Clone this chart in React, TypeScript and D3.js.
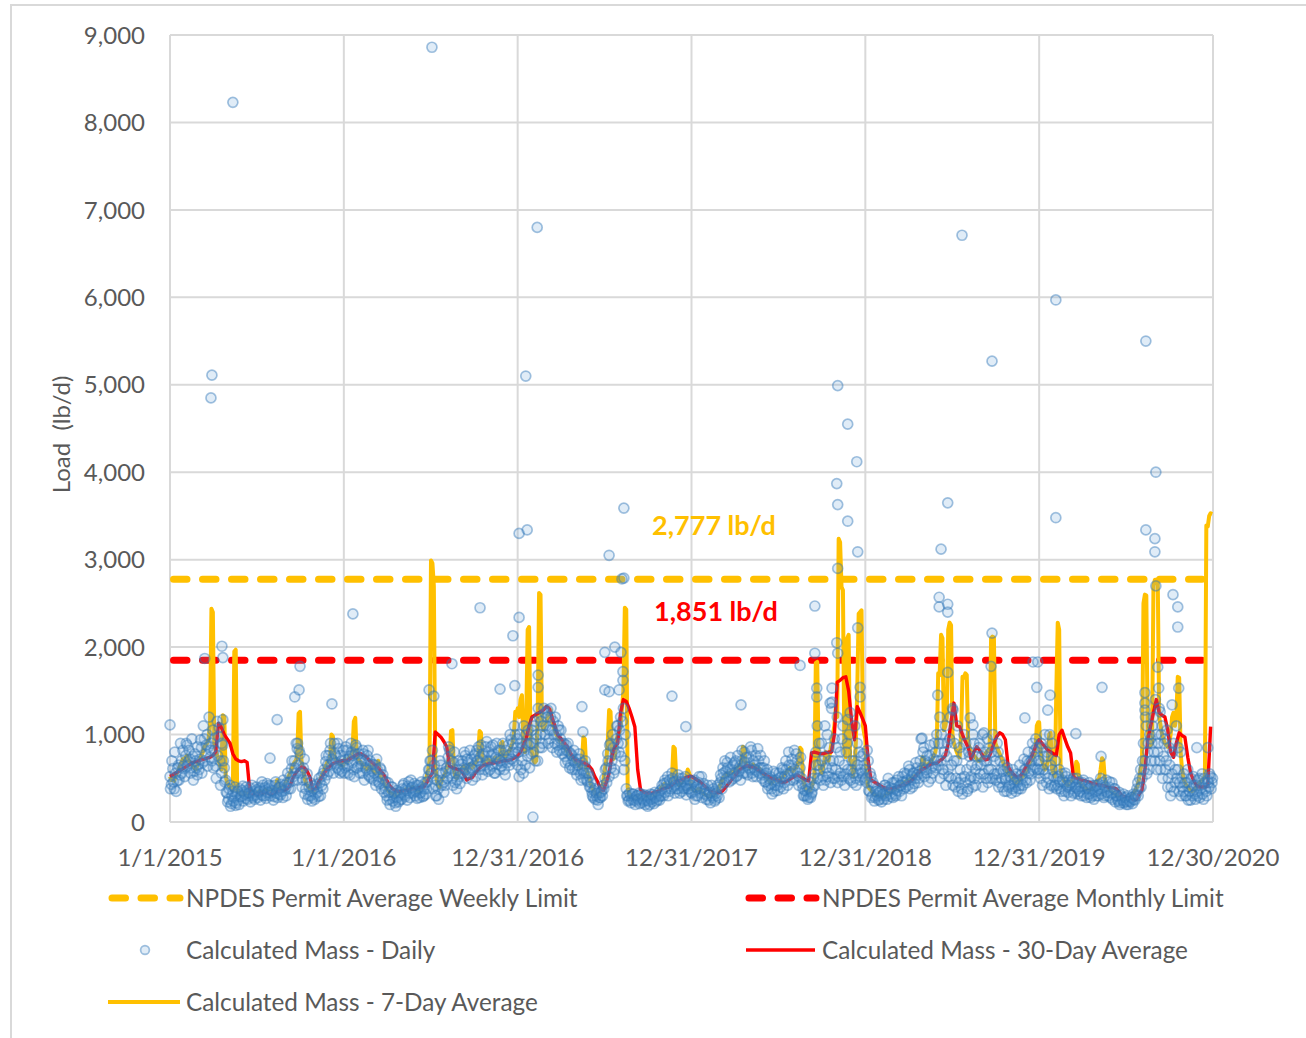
import React from 'react';
import * as d3 from 'd3';

// axis labels
const dateLabels = ['1/1/2015', '1/1/2016', '12/31/2016', '12/31/2017', '12/31/2018', '12/31/2019', '12/30/2020'];
const loadTicks = [0, 1000, 2000, 3000, 4000, 5000, 6000, 7000, 8000, 9000];

const weeklyLimit = 2777;
const monthlyLimit = 1851;

// daily mass, one value every 3 days inside each axis interval (lb/d)
const daily2015 = [
  520, 430, 610, 380, 560, 470, 650, 540, 700, 820,
  610, 760, 880, 690, 720, 620, 750, 580, 700, 540,
  660, 720, 850, 680, 950, 780, 1000, 860, 740, 900,
  1050, 820, 640, 1150, 980, 700, 560, 880, 620, 480,
  330, 260, 420, 210, 350, 280, 190, 320, 250, 380,
  290, 410, 340, 270, 360, 300, 390, 330, 280, 350,
  310, 370, 340, 390, 310, 420, 360, 300, 440, 380,
  330, 410, 350, 290, 460, 370, 320, 400, 430, 280,
  360, 390, 450, 380, 520, 610, 470, 700, 560, 840,
  650, 780, 600, 480, 720, 380, 550, 300, 450, 350,
  280, 410, 320, 380, 290, 450, 520, 380, 600, 690,
  540, 760, 820, 650, 700, 900, 760, 620, 840, 560,
  700, 650,
];
const daily2016 = [
  700, 620, 820, 560, 750, 900, 680, 600, 780, 850,
  640, 720, 640, 560, 780, 700, 600, 820, 520, 660,
  580, 480, 650, 720, 520, 440, 600, 500, 420, 380,
  300, 450, 260, 340, 400, 280, 220, 360, 300, 250,
  320, 380, 440, 290, 360, 410, 330, 480, 400, 350,
  300, 420, 370, 280, 340, 400, 300, 450, 380, 520,
  600, 700, 820, 500, 420, 300, 380, 560, 650, 480,
  340, 420, 620, 740, 820, 560, 500, 680, 450, 380,
  600, 520, 560, 700, 620, 760, 500, 680, 590, 720,
  480, 640, 780, 820, 700, 600, 880, 540, 760, 650,
  920, 580, 700, 860, 640, 780, 560, 900, 720, 600,
  820, 680, 760, 540, 720, 880, 650, 940, 800, 700,
  1000, 850,
];
const daily2017 = [
  650, 520, 900, 700, 560, 820, 1000, 750, 880, 900,
  1050, 800, 1150, 950, 700, 1200, 1000, 850, 1100, 1250,
  1100, 1280, 950, 1200, 1050, 1150, 900, 1000, 880, 1050,
  950, 900, 820, 750, 880, 700, 800, 650, 760, 700,
  600, 720, 600, 780, 550, 680, 500, 640, 560, 460,
  520, 400, 340, 280, 380, 300, 250, 330, 280, 360,
  420, 500, 620, 780, 520, 900, 700, 850, 600, 950,
  1100, 800, 1200, 900, 1300, 700, 380, 300, 250, 300,
  260, 320, 280, 240, 300, 330, 270, 220, 290, 310,
  250, 180, 280, 320, 230, 270, 340, 300, 260, 290,
  360, 420, 300, 480, 380, 520, 350, 440, 560, 400,
  330, 470, 380, 500, 420, 350, 460, 390, 310, 440,
  380, 420,
];
const daily2018 = [
  420, 350, 480, 300, 380, 450, 330, 520, 400, 360,
  380, 300, 250, 330, 420, 280, 350, 260, 300, 400,
  450, 500, 620, 450, 580, 680, 520, 600, 480, 650,
  560, 700, 530, 610, 640, 700, 620, 800, 560, 680,
  740, 600, 820, 520, 650, 760, 580, 700, 620, 620,
  540, 700, 460, 600, 420, 520, 380, 480, 350, 560,
  420, 500, 460, 520, 600, 450, 700, 550, 800, 480,
  650, 580, 820, 500, 700, 420, 620, 500, 380, 300,
  420, 350, 280, 460, 320, 400, 550, 800, 1100, 650,
  600, 900, 520, 750, 480, 1000, 560, 700, 1300, 500,
  950, 600, 1200, 520, 800, 480, 1100, 650, 550, 900,
  500, 1250, 600, 450, 700, 500, 900, 560, 480, 750,
  520, 650,
];
const daily2019 = [
  600, 450, 700, 350, 520, 300, 420, 280, 380, 330,
  260, 300, 380, 260, 420, 340, 500, 360, 290, 450,
  380, 320, 480, 400, 350, 420, 520, 380, 460, 550,
  420, 600, 480, 400, 560, 500, 620, 450, 580, 950,
  620, 850, 700, 560, 680, 760, 500, 640, 720, 800,
  1000, 650, 1200, 700, 900, 550, 1100, 750, 600, 950,
  500, 1300, 700, 400, 700, 350, 850, 500, 320, 1000,
  450, 600, 380, 750, 520, 400, 900, 600, 750, 500,
  900, 650, 1000, 550, 800, 700, 450, 850, 600, 500,
  750, 700, 550, 800, 450, 600, 400, 650, 500, 350,
  580, 420, 480, 380, 520, 400, 550, 460, 650, 380,
  500, 720, 600, 450, 800, 680, 550, 900, 750, 620,
  850, 700,
];
const daily2020 = [
  700, 500, 850, 600, 1000, 450, 750, 380, 650, 900,
  520, 420, 500, 420, 600, 380, 550, 460, 350, 520,
  400, 480, 450, 380, 500, 350, 420, 320, 460, 400,
  340, 480, 380, 400, 320, 450, 280, 380, 340, 420,
  300, 360, 430, 500, 360, 420, 300, 480, 340, 400,
  280, 450, 330, 380, 300, 260, 340, 220, 280, 320,
  240, 200, 300, 260, 230, 280, 320, 250, 320, 450,
  380, 600, 500, 900, 700, 1100, 800, 600, 950, 900,
  1200, 700, 1000, 800, 1300, 600, 1100, 750, 950, 700,
  400, 850, 300, 550, 900, 450, 1100, 600, 350, 800,
  500, 350, 450, 300, 600, 400, 250, 380, 520, 320,
  420, 300, 500, 380, 550, 260, 450, 350, 480, 400,
  520, 450,
];

// the in-between daily readings, one day after each value above (lb/d)
const dailyB2015 = [
  380, 700, 460, 800, 350, 620, 480, 900, 560, 640,
  520, 900, 640, 820, 560, 950, 480, 780, 620, 860,
  600, 940, 560, 1100, 700, 880, 640, 1200, 820, 700,
  620, 960, 500, 760, 1080, 420, 900, 700, 460, 340,
  230, 380, 180, 300, 240, 400, 220, 350, 200, 290,
  360, 240, 320, 400, 260, 330, 230, 420, 300, 260,
  400, 280, 350, 250, 460, 300, 390, 270, 340, 420,
  300, 360, 250, 420, 330, 280, 390, 310, 350, 480,
  420, 300, 560, 450, 380, 700, 520, 620, 900, 480,
  820, 560, 400, 620, 320, 480, 260, 400, 300, 240,
  380, 260, 430, 340, 500, 300, 420, 560, 480, 760,
  650, 580, 900, 720, 560, 780, 680, 900, 600, 760,
  580, 820,
];
const dailyB2016 = [
  560, 860, 640, 720, 540, 800, 760, 520, 880, 620,
  780, 560, 700, 820, 480, 620, 760, 540, 700, 500,
  660, 560, 420, 600, 460, 620, 380, 540, 340, 460,
  250, 340, 200, 400, 240, 330, 180, 280, 230, 340,
  260, 420, 310, 380, 250, 460, 280, 390, 330, 440,
  350, 270, 420, 330, 460, 290, 380, 320, 460, 600,
  700, 560, 380, 650, 300, 480, 260, 700, 420, 560,
  460, 580, 500, 860, 620, 700, 420, 800, 560, 480,
  700, 440, 660, 560, 800, 600, 720, 560, 820, 620,
  600, 760, 520, 700, 860, 740, 640, 780, 600, 860,
  700, 800, 600, 760, 880, 560, 740, 660, 820, 700,
  640, 900, 600, 820, 680, 760, 1000, 720, 900, 1100,
  780, 950,
];
const dailyB2017 = [
  800, 1000, 600, 850, 1100, 650, 900, 1050, 620, 780,
  900, 1100, 700, 1000, 1300, 850, 1150, 900, 1300, 1000,
  1200, 900, 1050, 1300, 850, 1000, 1200, 800, 1100, 820,
  1050, 780, 900, 680, 820, 900, 620, 780, 600, 820,
  680, 540, 650, 720, 480, 600, 560, 700, 480, 560,
  400, 450, 300, 360, 260, 330, 200, 280, 340, 300,
  380, 600, 450, 700, 880, 620, 1000, 560, 780, 1100,
  900, 1050, 750, 1150, 600, 1000, 300, 240, 330, 220,
  320, 250, 200, 300, 260, 210, 320, 260, 240, 200,
  300, 240, 200, 260, 310, 210, 280, 240, 330, 250,
  300, 380, 440, 340, 450, 300, 480, 380, 500, 460,
  420, 380, 540, 330, 460, 500, 380, 520, 420, 380,
  480, 340,
];
const dailyB2018 = [
  330, 460, 260, 400, 300, 520, 380, 280, 440, 320,
  260, 420, 340, 220, 300, 380, 240, 330, 420, 280,
  540, 380, 560, 700, 500, 620, 460, 740, 560, 500,
  680, 520, 760, 580, 480, 820, 560, 680, 740, 540,
  620, 860, 560, 700, 600, 520, 840, 560, 760, 500,
  620, 460, 560, 380, 500, 440, 320, 580, 420, 480,
  360, 560, 400, 620, 380, 520, 600, 420, 650, 560,
  720, 480, 600, 780, 560, 520, 740, 440, 300, 360,
  300, 260, 380, 280, 340, 500, 420, 650, 500, 900,
  480, 700, 420, 1100, 620, 520, 850, 450, 620, 700,
  500, 850, 450, 700, 560, 950, 520, 420, 800, 600,
  1000, 480, 700, 560, 1100, 420, 650, 800, 600, 560,
  780, 480,
];
const dailyB2019 = [
  500, 820, 360, 560, 280, 450, 240, 350, 300, 250,
  350, 230, 320, 420, 300, 260, 400, 320, 380, 280,
  450, 300, 360, 520, 420, 300, 460, 560, 400, 480,
  640, 380, 520, 560, 440, 680, 540, 500, 700, 560,
  800, 520, 600, 760, 460, 880, 620, 560, 900, 620,
  700, 900, 500, 1000, 600, 800, 420, 900, 520, 1200,
  650, 420, 900, 500, 1100, 450, 600, 380, 780, 520,
  900, 350, 800, 480, 650, 1000, 500, 420, 650, 850,
  550, 750, 400, 700, 500, 950, 600, 500, 800, 1000,
  550, 480, 900, 400, 700, 500, 580, 350, 480, 620,
  400, 520, 330, 600, 450, 350, 480, 380, 420, 540,
  420, 600, 480, 700, 560, 480, 700, 600, 820, 950,
  600, 560,
];
const dailyB2020 = [
  600, 900, 420, 750, 550, 800, 500, 1000, 420, 600,
  400, 700, 380, 520, 460, 350, 480, 300, 560, 420,
  340, 420, 300, 460, 330, 400, 500, 380, 350, 300,
  450, 300, 420, 280, 380, 320, 420, 300, 260, 350,
  420, 300, 380, 320, 450, 280, 400, 340, 300, 460,
  330, 260, 380, 230, 300, 240, 200, 300, 250, 220,
  280, 230, 200, 240, 280, 210, 260, 300, 380, 300,
  500, 400, 700, 600, 1200, 550, 900, 1000, 700, 1100,
  800, 1400, 600, 900, 700, 1000, 500, 900, 600, 1050,
  500, 650, 400, 800, 350, 600, 500, 850, 450, 300,
  400, 550, 300, 450, 250, 350, 500, 300, 420, 260,
  350, 480, 280, 420, 320, 500, 380, 300, 450, 550,
  380, 500,
];

// isolated daily readings: [days after 1/1/2015, lb/d]
const dailyHighs = [
  [0, 1110], [73, 1870], [86, 4850], [88, 5110], [109, 2010], [111, 1880], [111, 1170], [132, 8230],
  [210, 730], [225, 1170], [262, 1430], [268, 900], [271, 1510], [273, 1780], [340, 1350],
  [384, 2380], [544, 1510], [550, 8860], [554, 1440], [592, 1810], [651, 2450], [693, 1520],
  [720, 2130], [724, 1560], [733, 2340],
  [733, 3300], [747, 5100], [750, 3340], [762, 57], [771, 6800], [773, 1680], [773, 1540],
  [865, 1320], [867, 1030], [913, 1940], [913, 1510], [922, 1490], [922, 3050], [934, 2000],
  [943, 1510], [947, 1940], [949, 2780], [951, 1620], [951, 1720], [953, 3590], [953, 2790],
  [1054, 1440], [1083, 1090],
  [1199, 1340], [1323, 1790], [1354, 2470], [1354, 1930], [1358, 1530], [1358, 1430],
  [1386, 1360], [1390, 1370], [1390, 1530], [1400, 3870], [1400, 2050], [1402, 3630],
  [1402, 4990], [1402, 2900], [1402, 1930], [1423, 4550], [1423, 3440], [1423, 1170],
  [1442, 4120], [1444, 3090], [1444, 2220], [1449, 1540], [1449, 1430],
  [1579, 960], [1612, 1450], [1615, 2570], [1615, 2460], [1619, 3120], [1633, 2490],
  [1633, 2400], [1633, 3650], [1633, 1710], [1644, 1280], [1663, 6710], [1680, 1190],
  [1686, 1110], [1709, 1020], [1724, 1780], [1726, 5270], [1726, 2160], [1795, 1190],
  [1812, 1830], [1820, 1540], [1822, 1830],
  [1843, 1280], [1848, 1450], [1860, 5970], [1860, 3480], [1902, 1010], [1955, 750],
  [1957, 1540], [2047, 1480], [2047, 1360], [2047, 1280], [2049, 5500], [2049, 3340],
  [2068, 3240], [2068, 3090], [2070, 4000], [2070, 2700], [2074, 1770], [2076, 1530],
  [2079, 1260], [2104, 1340], [2106, 2600], [2116, 2460], [2116, 2230], [2118, 1530],
  [2156, 850], [2179, 850],
];

// 7-day average, one value every 3 days
const avg7_2015 = [
  520, 480, 500, 470, 540, 560, 600, 640, 680, 720,
  700, 740, 760, 700, 680, 660, 640, 620, 600, 640,
  680, 720, 760, 800, 860, 880, 900, 950, 1100, 2440,
  2400, 900, 820, 760, 700, 650, 600, 1220, 1200, 520,
  450, 420, 400, 380, 360, 1950, 1970, 360, 340, 330,
  320, 330, 340, 320, 310, 330, 340, 350, 330, 320,
  330, 340, 350, 360, 340, 330, 350, 370, 360, 350,
  370, 380, 360, 350, 400, 480, 420, 380, 390, 400,
  420, 450, 480, 520, 560, 600, 640, 680, 700, 750,
  1240, 1260, 700, 600, 520, 450, 420, 400, 380, 360,
  350, 360, 380, 400, 440, 480, 520, 560, 600, 640,
  680, 700, 720, 1000, 980, 760, 720, 700, 680, 660,
  650, 640,
];
const avg7_2016 = [
  700, 720, 680, 700, 740, 760, 800, 1150, 1190, 760,
  720, 700, 680, 660, 640, 620, 600, 620, 640, 660,
  600, 580, 560, 620, 700, 560, 520, 480, 450, 420,
  380, 360, 340, 330, 320, 310, 300, 310, 320, 330,
  340, 350, 360, 370, 380, 370, 360, 380, 400, 390,
  370, 360, 350, 380, 400, 420, 450, 480, 520, 600,
  700, 2990, 2960, 2700, 650, 480, 420, 400, 450, 500,
  520, 560, 600, 700, 700, 1040, 1050, 600, 520, 500,
  540, 580, 600, 620, 640, 600, 580, 620, 660, 640,
  620, 650, 680, 700, 740, 1040, 1020, 700, 680, 660,
  700, 720, 700, 680, 700, 720, 740, 700, 680, 720,
  900, 915, 760, 740, 780, 800, 820, 860, 900, 1000,
  1260, 1240,
];
const avg7_2017 = [
  1300, 1200, 1400, 1450, 900, 800, 1200, 2200, 2230, 900,
  800, 700, 680, 700, 1200, 2620, 2600, 1100, 1050, 1100,
  1150, 1200, 1250, 1280, 1150, 1100, 1050, 1000, 980, 950,
  920, 900, 880, 850, 820, 800, 780, 760, 740, 720,
  700, 680, 660, 640, 620, 700, 970, 950, 600, 560,
  500, 440, 400, 360, 330, 310, 300, 320, 340, 380,
  480, 600, 700, 900, 1280, 1260, 800, 720, 760, 900,
  1000, 1020, 1100, 1300, 1500, 2450, 2430, 400, 320, 300,
  280, 270, 280, 290, 300, 280, 270, 260, 280, 300,
  290, 280, 300, 310, 320, 300, 310, 330, 340, 360,
  380, 400, 420, 440, 420, 400, 420, 450, 500, 860,
  840, 500, 450, 420, 440, 460, 480, 500, 520, 600,
  560, 500,
];
const avg7_2018 = [
  380, 370, 360, 350, 360, 380, 370, 350, 330, 320,
  310, 300, 290, 300, 320, 310, 300, 320, 340, 380,
  420, 460, 500, 520, 540, 560, 540, 560, 580, 560,
  580, 600, 620, 640, 660, 700, 860, 840, 660, 640,
  640, 620, 640, 660, 640, 620, 600, 620, 600, 580,
  560, 540, 520, 500, 480, 460, 440, 460, 480, 500,
  480, 460, 480, 500, 520, 540, 560, 580, 600, 620,
  600, 580, 600, 620, 640, 700, 850, 830, 500, 420,
  380, 360, 340, 360, 400, 450, 500, 1820, 1830, 700,
  600, 560, 620, 700, 800, 760, 700, 800, 900, 1000,
  1100, 1300, 1200, 3240, 3200, 2690, 2650, 800, 740, 2100,
  2140, 700, 700, 520, 600, 900, 1500, 2380, 2400, 2420,
  1100, 1000,
];
const avg7_2019 = [
  950, 500, 400, 380, 360, 340, 320, 310, 300, 310,
  320, 300, 290, 300, 310, 320, 330, 340, 350, 360,
  370, 380, 390, 400, 410, 420, 440, 450, 460, 470,
  480, 490, 500, 510, 520, 530, 540, 560, 580, 600,
  740, 720, 620, 640, 660, 680, 700, 720, 760, 800,
  900, 1700, 1680, 2140, 2100, 1050, 1100, 1200, 2200, 2280,
  2250, 1000, 900, 850, 800, 760, 740, 1000, 1660, 1650,
  1700, 1680, 900, 850, 800, 780, 760, 740, 720, 700,
  700, 720, 740, 760, 780, 800, 820, 840, 2100, 2120,
  2110, 900, 860, 820, 780, 740, 700, 660, 620, 580,
  560, 540, 520, 500, 480, 460, 450, 460, 480, 500,
  520, 540, 560, 600, 640, 680, 700, 720, 760, 800,
  1100, 1140,
];
const avg7_2020 = [
  1140, 800, 700, 650, 600, 620, 700, 1000, 1020, 600,
  560, 520, 1500, 2280, 2200, 600, 520, 480, 460, 440,
  420, 440, 460, 480, 500, 560, 690, 660, 480, 440,
  420, 400, 390, 380, 370, 360, 380, 400, 420, 440,
  460, 480, 500, 600, 730, 700, 480, 420, 400, 380,
  360, 340, 330, 320, 310, 300, 290, 280, 270, 260,
  260, 250, 260, 270, 280, 300, 320, 350, 380, 420,
  500, 600, 700, 2500, 2600, 2590, 900, 860, 880, 900,
  2700, 2770, 2770, 2760, 1200, 1100, 1000, 950, 900, 880,
  860, 900, 1000, 1200, 1250, 1100, 1200, 1660, 1650, 800,
  600, 500, 450, 420, 400, 380, 360, 350, 360, 380,
  400, 420, 440, 460, 480, 500, 520, 3390, 3380, 3500,
  3530, 3520,
];

// 30-day average, one value every 6 days
const avg30_2015 = [
  520, 540, 560, 580, 600, 620, 640, 660, 680, 690,
  700, 710, 720, 730, 740, 760, 800, 1130, 1080, 1000,
  950, 900, 780, 720, 700, 690, 700, 680, 330, 320,
  310, 320, 330, 340, 330, 320, 330, 340, 350, 360,
  360, 380, 420, 500, 560, 600, 630, 620, 580, 510,
  370, 380, 460, 500, 560, 600, 640, 670, 680, 690,
  700,
];
const avg30_2016 = [
  700, 700, 720, 740, 760, 780, 780, 760, 740, 700,
  680, 650, 620, 580, 540, 480, 420, 380, 360, 350,
  350, 360, 360, 370, 380, 380, 390, 400, 400, 450,
  510, 560, 1030, 1000, 970, 920, 860, 640, 620, 610,
  600, 590, 540, 480, 500, 510, 560, 600, 630, 650,
  660, 670, 670, 680, 680, 690, 700, 700, 710, 720,
  740,
];
const avg30_2017 = [
  760, 800, 880, 950, 1100, 1200, 1220, 1240, 1260, 1280,
  1320, 1300, 1200, 1100, 1000, 960, 920, 880, 820, 760,
  720, 700, 690, 680, 660, 640, 600, 520, 460, 380,
  360, 450, 560, 760, 860, 900, 1250, 1400, 1380, 1300,
  1200, 1090, 600, 370, 340, 330, 330, 330, 340, 350,
  360, 380, 390, 400, 420, 450, 470, 480, 490, 510,
  520,
];
const avg30_2018 = [
  520, 500, 480, 460, 430, 400, 370, 350, 340, 330,
  340, 360, 400, 440, 480, 520, 560, 600, 620, 640,
  640, 630, 620, 600, 580, 560, 540, 520, 500, 490,
  480, 460, 450, 460, 480, 500, 520, 540, 520, 500,
  480, 470, 790, 800, 790, 780, 780, 790, 800, 800,
  1000, 1600, 1620, 1650, 1660, 1500, 1170, 940, 1320, 1250,
  1170,
];
const avg30_2019 = [
  1100, 700, 480, 460, 440, 420, 400, 390, 380, 380,
  390, 400, 410, 420, 430, 450, 470, 500, 540, 580,
  600, 620, 640, 660, 670, 670, 700, 720, 760, 900,
  1150, 1360, 1100, 1090, 1000, 920, 850, 720, 800, 860,
  820, 760, 710, 720, 800, 900, 980, 1020, 1000, 940,
  630, 580, 540, 510, 520, 560, 620, 680, 740, 820,
  900,
];
const avg30_2020 = [
  940, 900, 860, 820, 800, 780, 760, 1000, 1050, 950,
  860, 790, 510, 500, 490, 480, 470, 460, 450, 440,
  430, 420, 420, 410, 400, 390, 390, 380, 340, 300,
  290, 280, 270, 250, 260, 320, 370, 600, 940, 1100,
  1250, 1400, 1250, 1220, 1200, 1050, 800, 740, 900, 1020,
  990, 970, 740, 560, 480, 420, 400, 400, 400, 410,
  1090,
];

const FONT = "Lato, 'Liberation Sans', sans-serif";
const GRID = '#d9d9d9';
const TEXT = '#595959';
const GOLD = '#FFC000';
const RED = '#FF0000';

type Pt = { date: Date; v: number };

export default function App() {
  const width = 1306;
  const height = 1038;
  const left = 170, right = 1213, top = 35, bottom = 822;

  const parse = d3.utcParse('%m/%d/%Y');
  const tickDates = dateLabels.map((s) => parse(s) as Date);

  const x = d3.scaleUtc().domain([tickDates[0], tickDates[tickDates.length - 1]]).range([left, right]);
  const y = d3.scaleLinear().domain([0, 9000]).range([bottom, top]);

  const bySegment = (years: number[][], step: number, shift = 0): Pt[] =>
    years.flatMap((vals, k) =>
      vals.map((v, i) => ({ date: d3.utcDay.offset(tickDates[k], i * step + shift), v }))
    );

  const daily = bySegment([daily2015, daily2016, daily2017, daily2018, daily2019, daily2020], 3)
    .concat(bySegment([dailyB2015, dailyB2016, dailyB2017, dailyB2018, dailyB2019, dailyB2020], 3, 1))
    .concat(dailyHighs.map(([d, v]) => ({ date: d3.utcDay.offset(tickDates[0], d), v })));
  const avg7 = bySegment([avg7_2015, avg7_2016, avg7_2017, avg7_2018, avg7_2019, avg7_2020], 3);
  const avg30 = bySegment([avg30_2015, avg30_2016, avg30_2017, avg30_2018, avg30_2019, avg30_2020], 6);

  const line = d3
    .line<Pt>()
    .x((d) => x(d.date))
    .y((d) => y(d.v));

  const fmt = d3.format(',');
  const dash = '13.5 15.5';

  const circleStyle = {
    fill: '#5B9BD5',
    fillOpacity: 0.19,
    stroke: '#2E75B6',
    strokeOpacity: 0.44,
    strokeWidth: 1.7,
  };

  return (
    <svg
      width={width}
      height={height}
      style={{ position: 'absolute', left: 0, top: 0, background: '#fff' }}
      fontFamily={FONT}
    >
      <rect width={width} height={height} fill="#fff" />
      {/* chart frame */}
      <path d={`M11,${height} V5 H${width}`} fill="none" stroke={GRID} strokeWidth={2} />

      {/* grid */}
      {loadTicks.map((t) => (
        <line key={'h' + t} x1={left} x2={right} y1={y(t)} y2={y(t)} stroke={GRID} strokeWidth={2} />
      ))}
      {tickDates.map((d, i) => (
        <line key={'v' + i} x1={x(d)} x2={x(d)} y1={top} y2={bottom} stroke={GRID} strokeWidth={2} />
      ))}

      {/* y labels */}
      {loadTicks.map((t) => (
        <text key={'yl' + t} x={145} y={y(t)} dy="0.36em" textAnchor="end" fontSize={24} fill={TEXT}>
          {fmt(t)}
        </text>
      ))}
      {/* x labels */}
      {tickDates.map((d, i) => (
        <text key={'xl' + i} x={x(d)} y={866} textAnchor="middle" fontSize={24} fill={TEXT}>
          {dateLabels[i]}
        </text>
      ))}
      <text
        transform={`translate(70,${(top + bottom) / 2 + 6}) rotate(-90)`}
        textAnchor="middle"
        fontSize={24}
        fill={TEXT}
        style={{ whiteSpace: 'pre' }}
      >
        {'Load  (lb/d)'}
      </text>

      {/* permit limits */}
      <line x1={left + 3.5} x2={right} y1={y(weeklyLimit)} y2={y(weeklyLimit)} stroke={GOLD} strokeWidth={7} strokeDasharray={dash} strokeLinecap="round" />
      <line x1={left + 3.5} x2={right} y1={y(monthlyLimit)} y2={y(monthlyLimit)} stroke={RED} strokeWidth={7} strokeDasharray={dash} strokeLinecap="round" />

      {/* averages */}
      <path d={line(avg7) || ''} fill="none" stroke={GOLD} strokeWidth={4} strokeLinejoin="round" />
      <path d={line(avg30) || ''} fill="none" stroke={RED} strokeWidth={3.4} strokeLinejoin="round" />

      {/* daily */}
      <g>
        {daily.map((d, i) => (
          <circle key={i} cx={x(d.date)} cy={y(d.v)} r={5} {...circleStyle} />
        ))}
      </g>

      {/* limit labels */}
      <text x={714} y={y(weeklyLimit) - 44} textAnchor="middle" fontSize={27} fontWeight="bold" fill={GOLD}>
        {fmt(weeklyLimit) + ' lb/d'}
      </text>
      <text x={716} y={y(monthlyLimit) - 39} textAnchor="middle" fontSize={27} fontWeight="bold" fill={RED}>
        {fmt(monthlyLimit) + ' lb/d'}
      </text>

      {/* legend */}
      <g fontSize={24.3} fill={TEXT}>
        <line x1={112} x2={180} y1={898} y2={898} stroke={GOLD} strokeWidth={7} strokeDasharray={dash} strokeLinecap="round" />
        <text x={186} y={898} dy="0.36em">NPDES Permit Average Weekly Limit</text>

        <line x1={749} x2={816} y1={898} y2={898} stroke={RED} strokeWidth={7} strokeDasharray={dash} strokeLinecap="round" />
        <text x={822} y={898} dy="0.36em">NPDES Permit Average Monthly Limit</text>

        <circle cx={145} cy={950} r={4.4} {...circleStyle} />
        <text x={186} y={950} dy="0.36em">Calculated Mass - Daily</text>

        <line x1={746} x2={815} y1={950} y2={950} stroke={RED} strokeWidth={3.4} />
        <text x={822} y={950} dy="0.36em">Calculated Mass - 30-Day Average</text>

        <line x1={108} x2={180} y1={1002} y2={1002} stroke={GOLD} strokeWidth={4} />
        <text x={186} y={1002} dy="0.36em">Calculated Mass - 7-Day Average</text>
      </g>
    </svg>
  );
}
